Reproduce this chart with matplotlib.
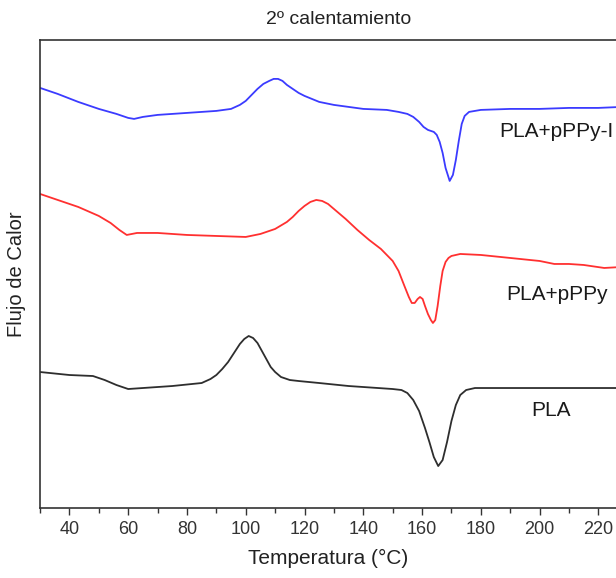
import numpy as np
import matplotlib.pyplot as plt

plt.rcParams['font.family'] = ['Liberation Sans', 'DejaVu Sans']

# Temperature (°C) and heat flow (arbitrary units, curves already offset)
temp_pani = [30, 36, 43, 50, 56, 60, 62, 65, 70, 80, 90, 95, 98, 100, 102, 104, 106,
             108, 109.5, 111, 112.5, 114, 116, 118, 120, 125, 130, 140, 148, 152,
             155, 157, 159, 160.5, 162, 164, 165, 166, 167, 168, 169.4, 170.5, 171.5,
             172.5, 173.5, 174.5, 176, 178, 180, 190, 200, 210, 220, 228]
flux_pani = [4.20, 4.14, 4.06, 3.99, 3.94, 3.90, 3.89, 3.91, 3.93, 3.95, 3.97, 3.99,
             4.03, 4.07, 4.13, 4.19, 4.24, 4.27, 4.29, 4.29, 4.27, 4.23, 4.19, 4.15,
             4.12, 4.06, 4.03, 3.99, 3.98, 3.96, 3.94, 3.91, 3.86, 3.81, 3.78, 3.76,
             3.73, 3.66, 3.55, 3.40, 3.27, 3.33, 3.48, 3.67, 3.84, 3.92, 3.96, 3.97,
             3.98, 3.99, 3.99, 4.00, 4.00, 4.01]

temp_ppy = [30, 36, 43, 50, 54, 57, 59.5, 63, 70, 80, 90, 100, 105, 110, 114, 116,
            118, 120, 122, 124, 126, 128, 130, 134, 138, 142, 146, 150, 152, 154,
            155.5, 156.5, 157.5, 158.5, 159.3, 160.2, 161, 162, 163, 163.7, 164.5,
            165.3, 166.2, 167, 168, 169, 170, 173, 180, 190, 200, 205, 210, 215, 222,
            228]
flux_ppy = [3.14, 3.08, 3.01, 2.92, 2.85, 2.78, 2.73, 2.75, 2.75, 2.73, 2.72, 2.71,
            2.74, 2.79, 2.86, 2.91, 2.97, 3.02, 3.06, 3.08, 3.07, 3.04, 2.99, 2.89,
            2.78, 2.68, 2.59, 2.47, 2.37, 2.22, 2.11, 2.05, 2.05, 2.09, 2.11, 2.09,
            2.02, 1.94, 1.88, 1.85, 1.88, 2.02, 2.22, 2.37, 2.46, 2.50, 2.52, 2.54,
            2.53, 2.50, 2.47, 2.44, 2.44, 2.43, 2.40, 2.41]

temp_pla = [30, 40, 48, 52, 56, 60, 65, 75, 85, 88, 90, 92, 94, 96, 98, 99.5, 101,
            102.5, 104, 105.5, 107, 108.5, 110, 112, 115, 118, 125, 135, 145, 150,
            153, 155, 157, 159, 161, 162.5, 164, 165.5, 167, 168.5, 170, 171.5, 173,
            175, 178, 180, 200, 228]
flux_pla = [1.36, 1.33, 1.32, 1.28, 1.23, 1.19, 1.20, 1.22, 1.25, 1.29, 1.33, 1.39,
            1.46, 1.55, 1.64, 1.69, 1.72, 1.70, 1.65, 1.57, 1.49, 1.41, 1.36, 1.31,
            1.28, 1.27, 1.25, 1.22, 1.20, 1.19, 1.18, 1.15, 1.08, 0.97, 0.80, 0.66,
            0.51, 0.42, 0.48, 0.66, 0.87, 1.03, 1.13, 1.18, 1.20, 1.20, 1.20, 1.20]

labels = ['PLA+pPPy-I', 'PLA+pPPy', 'PLA']
label_pos = [(186.2, 3.76), (188.5, 2.13), (197.3, 0.98)]

fig = plt.figure(figsize=(6.16, 5.78), dpi=100)
ax = fig.add_axes([0.065, 0.121, 0.935, 0.810])

ax.plot(temp_pani, flux_pani, color='#3b3bff', lw=1.3)
ax.plot(temp_ppy, flux_ppy, color='#ff3030', lw=1.3)
ax.plot(temp_pla, flux_pla, color='#2e2e2e', lw=1.3)

for lab, (x, y) in zip(labels, label_pos):
    ax.text(x, y, lab, fontsize=15, color='#1a1a1a', ha='left', va='center')

ax.set_xlim(30, 226)
ax.set_ylim(0, 4.68)
ax.set_xticks(np.arange(40, 221, 20))
ax.set_xticks(np.arange(30, 226, 20), minor=True)
ax.set_yticks([])
ax.tick_params(axis='x', which='major', direction='out', length=5, width=1,
               labelsize=13, colors='#333333', pad=4)
ax.tick_params(axis='x', which='minor', direction='out', length=3.5, width=1,
               colors='#333333')
ax.spines['right'].set_visible(False)
for s in ['left', 'top', 'bottom']:
    ax.spines[s].set_color('#333333')
    ax.spines[s].set_linewidth(1.2)

ax.set_xlabel('Temperatura (°C)', fontsize=15, color='#222222', labelpad=8)
ax.set_ylabel('Flujo de Calor', fontsize=14.5, color='#222222', labelpad=10)
fig.text(0.55, 0.967, '2º calentamiento', fontsize=14, color='#222222',
         ha='center', va='center')

fig.savefig('out.png', dpi=100)
